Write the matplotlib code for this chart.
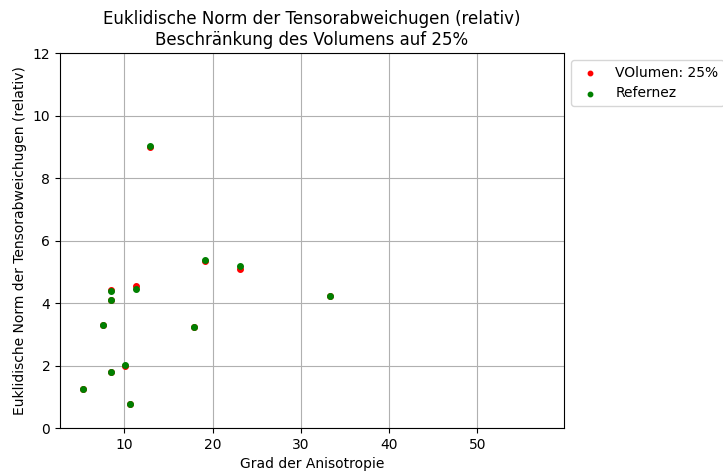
import numpy as np
import matplotlib
matplotlib.use("Agg")
import matplotlib.pyplot as plt

# Grad der Anisotropie je Probe
anisotropie = [12.87, 19.17, 23.06, 11.32, 8.53, 8.53, 7.58, 17.85, 10.11, 8.53, 5.36, 10.64, 33.26]

# Euklidische Norm der Tensorabweichung (relativ)
norm_volumen25 = [8.98, 5.35, 5.09, 4.54, 4.41, 4.11, 3.31, 3.23, 1.97, 1.80, 1.24, 0.77, 4.21]
norm_referenz = [9.01, 5.39, 5.17, 4.46, 4.37, 4.11, 3.31, 3.23, 2.03, 1.80, 1.24, 0.77, 4.22]

fig = plt.figure(figsize=(7.23, 4.73), dpi=100)
ax = fig.add_axes([60 / 723, 45 / 473, 504 / 723, 375 / 473])

ax.scatter(anisotropie, norm_volumen25, s=16, color="red", label="VOlumen: 25%", zorder=3)
ax.scatter(anisotropie, norm_referenz, s=16, color="green", label="Refernez", zorder=3)

ax.set_xlim(2.7, 59.8)
ax.set_ylim(0, 12)
ax.set_xticks([10, 20, 30, 40, 50])
ax.set_yticks(np.arange(0, 13, 2))
ax.grid(True)
ax.set_axisbelow(True)

ax.set_xlabel("Grad der Anisotropie")
ax.set_ylabel("Euklidische Norm der Tensorabweichugen (relativ)")
ax.set_title("Euklidische Norm der Tensorabweichugen (relativ)\nBeschränkung des Volumens auf 25%")
ax.legend(loc="upper left", bbox_to_anchor=(1.0, 1.0), markerscale=0.8)

fig.savefig("out.png", dpi=100)
